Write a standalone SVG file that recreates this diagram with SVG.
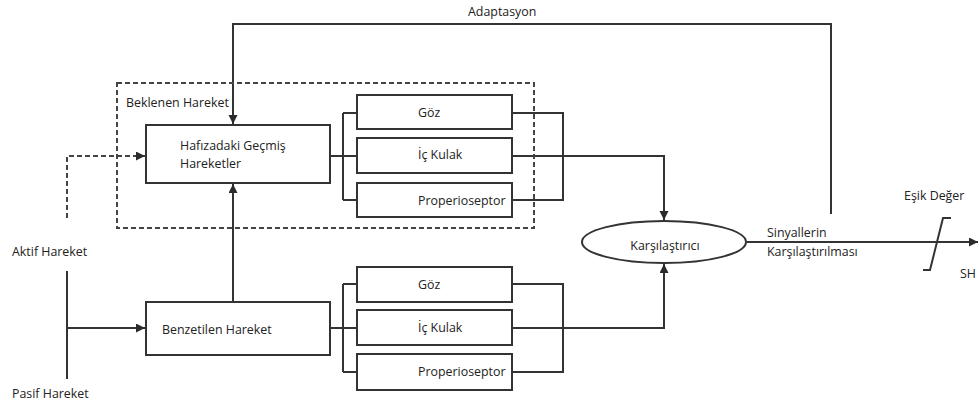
<svg xmlns="http://www.w3.org/2000/svg" width="979" height="410" viewBox="0 0 979 410">
<defs>
<marker id="arr" markerWidth="10" markerHeight="10" refX="9" refY="4.5" orient="auto" markerUnits="userSpaceOnUse">
<path d="M0,0 L9,4.5 L0,9 Z" fill="#2b2b2b"/>
</marker>
</defs>
<style>
.box{fill:#fff;stroke:#333;stroke-width:2}
.ln{fill:none;stroke:#333;stroke-width:2}
.dash{fill:none;stroke:#444;stroke-width:2;stroke-dasharray:5,3}
text{font-family:"Open Sans","Liberation Sans",sans-serif;font-size:12.4px;fill:#222}
</style>
<rect width="979" height="410" fill="#fff"/>
<g id="connectors">
<path class="ln" d="M831,214 V24 H233 V124" marker-end="url(#arr)"/>
<path class="dash" d="M67,218 V156 H145" marker-end="url(#arr)"/>
<path class="ln" d="M233,302 V184" marker-end="url(#arr)"/>
<path class="ln" d="M67,271 V379 M67,328 H145" marker-end="url(#arr)"/>
<path class="ln" d="M330,156 H357 M343,113 V200 M343,113 H357 M343,200 H357"/>
<path class="ln" d="M512,113 H563 V200 H512"/>
<path class="ln" d="M512,156 H664 V220" marker-end="url(#arr)"/>
<path class="ln" d="M330,328 H357 M343,284 V372 M343,284 H357 M343,372 H357"/>
<path class="ln" d="M512,284 H563 V372 H512"/>
<path class="ln" d="M512,328 H664 V264" marker-end="url(#arr)"/>
<path class="ln" d="M747,242 H978" marker-end="url(#arr)"/>
<path class="ln" d="M923,270 H930 L943,218 H951"/>
</g>
<g id="expected-group">
<rect class="dash" x="117" y="83" width="417" height="145"/>
<text x="126" y="107">Beklenen Hareket</text>
</g>
<g id="memory">
<rect class="box" x="146" y="125" width="184" height="58"/>
<text x="180" y="150">Hafızadaki Geçmiş</text>
<text x="180" y="168">Hareketler</text>
</g>
<g id="goz1"><rect class="box" x="357" y="95" width="155" height="34"/><text x="418" y="117">Göz</text></g>
<g id="kulak1"><rect class="box" x="357" y="138" width="155" height="35"/><text x="418" y="159">İç Kulak</text></g>
<g id="prop1"><rect class="box" x="357" y="183" width="155" height="34"/><text x="418" y="205">Properioseptor</text></g>
<g id="simulated">
<rect class="box" x="146" y="302" width="184" height="53"/>
<text x="162" y="334">Benzetilen Hareket</text>
</g>
<g id="goz2"><rect class="box" x="357" y="267" width="155" height="35"/><text x="418" y="289">Göz</text></g>
<g id="kulak2"><rect class="box" x="357" y="310" width="155" height="35"/><text x="418" y="332">İç Kulak</text></g>
<g id="prop2"><rect class="box" x="357" y="354" width="155" height="36"/><text x="418" y="376">Properioseptor</text></g>
<g id="comparator">
<ellipse class="box" cx="664" cy="242" rx="82" ry="21"/>
<text x="665" y="250" text-anchor="middle">Karşılaştırıcı</text>
</g>
<g id="labels">
<text x="468" y="16">Adaptasyon</text>
<text x="12" y="256">Aktif Hareket</text>
<text x="12" y="398">Pasif Hareket</text>
<text x="767" y="237">Sinyallerin</text>
<text x="767" y="256">Karşılaştırılması</text>
<text x="904" y="200">Eşik Değer</text>
<text x="960" y="278">SH</text>
</g>
</svg>
